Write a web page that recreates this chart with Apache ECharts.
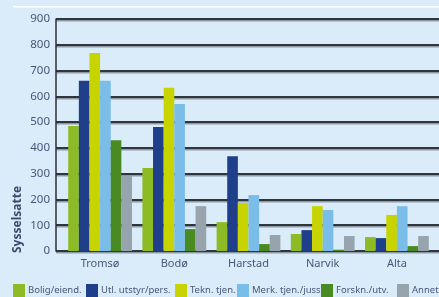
<!DOCTYPE html>
<html>
<head>
<meta charset="utf-8">
<script src="https://cdn.jsdelivr.net/npm/echarts@6/dist/echarts.min.js"></script>
<style>
  html, body { margin: 0; padding: 0; background: #daecfa; }
  #chart { width: 439px; height: 297px; }
</style>
</head>
<body>
<div id="chart"></div>
<script>
"use strict";
// kategorier og serier
var byer = ["Tromsø", "Bodø", "Harstad", "Narvik", "Alta"];
var serieNavn = ["Bolig/eiend.", "Utl. utstyr/pers.", "Tekn. tjen.", "Merk. tjen./juss", "Forskn./utv.", "Annet"];
var bolig  = [485, 322, 112, 66, 54];
var utl    = [660, 481, 368, 81, 50];
var tekn   = [768, 633, 186, 174, 140];
var merk   = [660, 570, 217, 159, 174];
var forskn = [430, 85, 27, 5, 19];
var annet  = [291, 174, 62, 58, 58];
var yTicks = [0, 100, 200, 300, 400, 500, 600, 700, 800, 900];

var farger = ["#8cbb26", "#1f3f8b", "#c8d400", "#7bbde9", "#4a8a22", "#97a4ad"];
var verdier = [bolig, utl, tekn, merk, forskn, annet];
// venstre kant for hver legend-rute
var legendX = [13, 86, 175, 237, 321, 397];

var myChart = echarts.init(document.getElementById('chart'));
var textFarge = '#4a5678';
var font = 'Noto Sans';

var series = serieNavn.map(function(navn, i){
  return {
    name: navn,
    type: 'bar',
    xAxisIndex: 1,
    yAxisIndex: 1,
    z: 5,
    barGap: '0%',
    barCategoryGap: '14%',
    itemStyle: { color: farger[i] },
    data: verdier[i]
  };
});

// en legend per serie, så plasseringen blir lik originalen
var legends = serieNavn.map(function(navn, i){
  return {
    left: legendX[i],
    top: 284,
    padding: 0,
    itemWidth: 12,
    itemHeight: 13,
    icon: 'rect',
    textStyle: { color: textFarge, fontSize: 9.5, fontFamily: font, padding: [0, 0, 0, -2] },
    data: [navn]
  };
});

var option = {
  backgroundColor: '#daecfa',
  animation: false,
  graphic: [
    {
      type: 'rect',
      shape: { x: 13, y: 6, width: 426, height: 1.5 },
      style: { fill: '#ffffff' }
    },
    {
      type: 'text',
      x: 18,
      y: 253,
      rotation: Math.PI / 2,
      style: {
        text: 'Sysselsatte',
        fill: '#3d4a6e',
        font: 'bold 12px "Noto Sans"',
        textAlign: 'left',
        textVerticalAlign: 'middle'
      }
    }
  ],
  grid: [
    { left: 56, right: -2, top: 19, bottom: 46, outerBoundsMode: 'none', containLabel: false },
    { left: 63, right: 5, top: 19, bottom: 46, outerBoundsMode: 'none', containLabel: false }
  ],
  legend: legends,
  xAxis: [
    { type: 'value', gridIndex: 0, show: false, min: 0, max: 1 },
    {
      type: 'category',
      gridIndex: 1,
      data: byer,
      axisLine: { show: false },
      axisTick: { show: false },
      axisLabel: { color: textFarge, fontSize: 11, fontFamily: font, margin: 7 }
    }
  ],
  yAxis: [
    {
      type: 'value',
      gridIndex: 0,
      z: 0,
      min: yTicks[0],
      max: yTicks[yTicks.length - 1],
      interval: 100,
      axisLine: { show: true, lineStyle: { color: '#2b2f36', width: 1.5 } },
      axisTick: { show: false },
      axisLabel: { color: textFarge, fontSize: 11.5, fontFamily: font, margin: 6 },
      splitLine: {
        show: true,
        lineStyle: { color: '#30343b', width: 2, shadowColor: 'rgba(90,100,110,0.6)', shadowOffsetY: 1.5 }
      }
    },
    { type: 'value', gridIndex: 1, show: false, min: 0, max: 900 }
  ],
  series: series
};
myChart.setOption(option);
</script>
</body>
</html>
